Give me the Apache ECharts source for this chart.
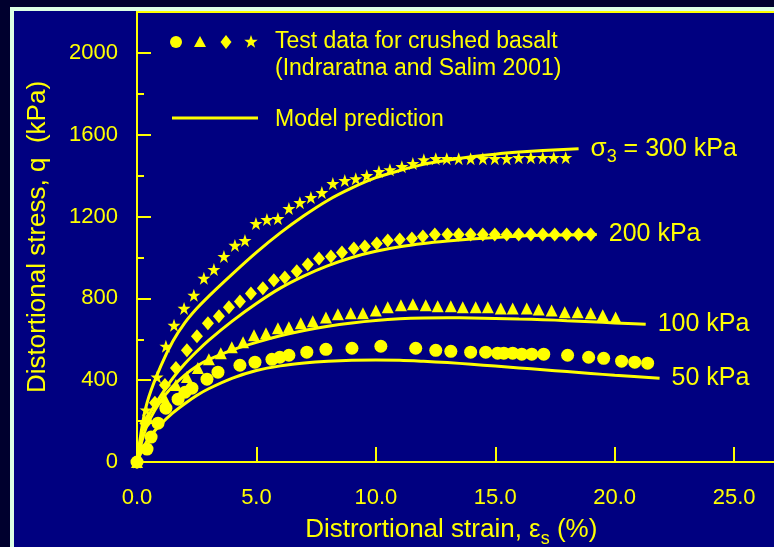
<!DOCTYPE html>
<html>
<head>
<meta charset="utf-8">
<title>Crushed basalt – distortional stress vs strain</title>
<script src="https://cdn.jsdelivr.net/npm/echarts@6/dist/echarts.min.js"></script>
<style>
  html, body { margin: 0; padding: 0; background: #00002e; }
  #chart { width: 774px; height: 547px; }
</style>
</head>
<body>
<div id="chart"></div>
<script>
// Test data, [distortional strain %, distortional stress kPa]
const test50 = [
  [0, 0], [0.42, 63], [0.59, 122], [0.88, 190], [1.21, 263], [1.72, 307], [2.01, 341],
  [2.30, 361], [2.93, 405], [3.39, 439], [4.31, 473], [4.94, 488], [5.65, 502],
  [5.98, 512], [6.36, 522], [7.11, 537], [7.91, 551], [9.00, 556], [10.21, 566],
  [11.67, 556], [12.51, 546], [13.14, 541], [13.97, 537], [14.60, 537], [15.10, 532],
  [15.36, 532], [15.73, 532], [16.11, 527], [16.53, 527], [17.03, 527], [18.03, 522],
  [18.91, 512], [19.54, 507], [20.29, 493], [20.84, 488], [21.38, 483]
];
const test100 = [
  [0, 0], [0.45, 215], [1.13, 317], [1.63, 376], [2.09, 415], [2.55, 459], [3.01, 502],
  [3.51, 532], [3.97, 561], [4.44, 585], [4.90, 620], [5.40, 629], [5.90, 654],
  [6.36, 659], [6.86, 678], [7.36, 688], [7.91, 707], [8.41, 722], [8.95, 727],
  [9.46, 727], [10.00, 741], [10.50, 756], [11.05, 766], [11.55, 771], [12.09, 766],
  [12.59, 761], [13.14, 761], [13.64, 756], [14.18, 756], [14.69, 756], [15.23, 751],
  [15.73, 751], [16.32, 751], [16.82, 746], [17.36, 741], [17.91, 732], [18.45, 732],
  [19.00, 727], [19.50, 717], [20.04, 707]
];
const test200 = [
  [0, 0], [0.35, 190], [0.75, 290], [1.17, 376], [1.63, 459], [2.09, 546], [2.51, 615],
  [2.97, 678], [3.43, 712], [3.85, 756], [4.31, 785], [4.77, 824], [5.27, 849],
  [5.73, 888], [6.19, 902], [6.69, 932], [7.15, 966], [7.62, 995], [8.12, 1005],
  [8.58, 1024], [9.08, 1044], [9.54, 1054], [10.04, 1068], [10.50, 1083], [11.00, 1088],
  [11.51, 1093], [11.97, 1102], [12.47, 1112], [13.00, 1112], [13.47, 1112], [13.97, 1112],
  [14.48, 1112], [14.98, 1112], [15.48, 1112], [15.98, 1112], [16.49, 1112], [16.99, 1112],
  [17.49, 1112], [17.99, 1112], [18.49, 1112], [19.00, 1112]
];
const test300 = [
  [0, 0], [0.38, 254], [0.84, 415], [1.21, 566], [1.55, 668], [1.97, 751], [2.38, 815],
  [2.80, 898], [3.22, 941], [3.64, 1005], [4.10, 1059], [4.52, 1083], [4.98, 1166],
  [5.44, 1185], [5.90, 1190], [6.36, 1239], [6.82, 1268], [7.28, 1293], [7.74, 1317],
  [8.20, 1361], [8.70, 1376], [9.16, 1385], [9.62, 1400], [10.13, 1420], [10.59, 1429],
  [11.09, 1444], [11.55, 1459], [12.01, 1478], [12.51, 1483], [12.97, 1483], [13.47, 1483],
  [13.97, 1483], [14.48, 1483], [14.98, 1483], [15.48, 1483], [15.98, 1488], [16.49, 1488],
  [16.99, 1488], [17.45, 1488], [17.95, 1488]
];

// Model prediction curves
const model50 = [
  [0, 0], [0.25, 65], [0.5, 118], [1, 185], [1.5, 240], [2, 285], [2.5, 325], [3, 358],
  [4, 410], [5, 447], [6, 470], [7, 484], [8, 493], [9, 498], [10, 499], [11, 497],
  [12, 492], [13, 486], [14, 478], [15, 469], [16, 460], [17, 451], [18, 442], [19, 433],
  [20, 424], [21.88, 410]
];
const model100 = [
  [0, 0], [0.25, 120], [0.5, 200], [1, 300], [1.5, 370], [2, 425], [2.5, 468], [3, 500],
  [4, 548], [5, 585], [6, 617], [7, 643], [8, 664], [9, 680], [10, 692], [11, 700],
  [12, 704], [13, 705], [14, 704], [15, 702], [16, 699], [17, 696], [18, 691], [19, 686],
  [20, 680], [21.3, 673]
];
const model200 = [
  [0, 0], [0.25, 165], [0.5, 230], [1, 325], [1.5, 410], [2, 480], [2.5, 540], [3, 595],
  [4, 690], [5, 775], [6, 850], [7, 910], [8, 960], [9, 1000], [10, 1030], [11, 1052],
  [12, 1068], [13, 1080], [14, 1090], [15, 1098], [16, 1104], [17, 1108], [19.25, 1112]
];
const model300 = [
  [0, 0], [0.25, 200], [0.5, 320], [1, 470], [1.5, 590], [2, 680], [2.5, 750], [3, 810],
  [4, 920], [5, 1025], [6, 1120], [7, 1205], [8, 1280], [9, 1340], [10, 1390], [11, 1425],
  [12, 1455], [13, 1475], [14, 1492], [15, 1505], [16, 1515], [17, 1523], [18.49, 1532]
];

// Curve end labels
const curveLabels = ['{s|σ}{sub|3}{t| = 300 kPa}', '200 kPa', '100 kPa', '50 kPa'];

// Axis ticks
const xTicks = [0, 5, 10, 15, 20, 25, 30];
const yMajorTicks = [0, 400, 800, 1200, 1600, 2000];

const YELLOW = '#ffff00';
const FONT = '"Liberation Sans", Arial, sans-serif';
const STAR = 'path://M50,0 L61.8,35.1 L97.6,35.1 L68.6,56.9 L79.4,91.9 L50,70.2 L20.6,91.9 L31.4,56.9 L2.4,35.1 L38.2,35.1 Z';

function scatter(data, symbol, size) {
  return {
    type: 'scatter',
    data: data,
    symbol: symbol,
    symbolSize: size,
    itemStyle: { color: YELLOW, opacity: 1 },
    z: 3,
    silent: true
  };
}

function modelLine(data, labelText) {
  return {
    type: 'line',
    data: data,
    smooth: 0.3,
    showSymbol: false,
    symbol: 'none',
    lineStyle: { color: YELLOW, width: 3 },
    endLabel: {
      show: true,
      distance: 12,
      formatter: labelText,
      color: YELLOW,
      fontFamily: FONT,
      fontSize: 25,
      rich: {
        s: { fontSize: 26, color: YELLOW, fontFamily: FONT, lineHeight: 34 },
        sub: { fontSize: 18, color: YELLOW, fontFamily: FONT, lineHeight: 34, verticalAlign: 'bottom' },
        t: { fontSize: 25, color: YELLOW, fontFamily: FONT, lineHeight: 34 }
      }
    },
    z: 2,
    silent: true
  };
}

const chart = echarts.init(document.getElementById('chart'), null, { renderer: 'canvas' });

chart.setOption({
  backgroundColor: '#00002e',
  animation: false,
  graphic: [
    {
      type: 'rect',
      z: -10,
      shape: { x: 12, y: 9, width: 1000, height: 1000 },
      style: { fill: '#000080', stroke: '#dcffe4', lineWidth: 4 }
    },
    // legend: test data symbols
    { type: 'circle', shape: { cx: 176, cy: 42, r: 6 }, style: { fill: YELLOW } },
    { type: 'polygon', shape: { points: [[200, 36], [206, 47], [194, 47]] }, style: { fill: YELLOW } },
    { type: 'polygon', shape: { points: [[226, 35], [231.5, 42], [226, 49], [220.5, 42]] }, style: { fill: YELLOW } },
    {
      type: 'polygon',
      shape: {
        points: [[251, 35], [252.7, 39.8], [257.7, 39.8], [253.7, 42.9], [255.1, 47.7],
                 [251, 44.8], [246.9, 47.7], [248.3, 42.9], [244.3, 39.8], [249.3, 39.8]]
      },
      style: { fill: YELLOW }
    },
    {
      type: 'text', x: 275, y: 42,
      style: { text: 'Test data for crushed basalt', fill: YELLOW, font: '23px ' + FONT, verticalAlign: 'middle' }
    },
    {
      type: 'text', x: 275, y: 69,
      style: { text: '(Indraratna and Salim 2001)', fill: YELLOW, font: '23px ' + FONT, verticalAlign: 'middle' }
    },
    { type: 'line', shape: { x1: 172, y1: 118, x2: 258, y2: 118 }, style: { stroke: YELLOW, lineWidth: 3 } },
    {
      type: 'text', x: 275, y: 120,
      style: { text: 'Model prediction', fill: YELLOW, font: '23px ' + FONT, verticalAlign: 'middle' }
    }
  ],
  grid: {
    left: 137,
    right: -79.5,
    top: 12,
    bottom: 85,
    show: true,
    backgroundColor: 'transparent',
    borderColor: YELLOW,
    borderWidth: 2,
    containLabel: false,
    outerBoundsMode: 'none'
  },
  xAxis: {
    type: 'value',
    min: xTicks[0],
    max: xTicks[xTicks.length - 1],
    interval: 5,
    name: 'Distrortional strain, {e|ε}{sub|s} (%)',
    nameLocation: 'middle',
    nameGap: 50,
    nameTextStyle: {
      color: YELLOW, fontFamily: FONT, fontSize: 26,
      padding: [0, 88, 0, 0],
      rich: {
        e: { color: YELLOW, fontFamily: FONT, fontSize: 26, lineHeight: 36 },
        sub: { color: YELLOW, fontFamily: FONT, fontSize: 18, lineHeight: 36, verticalAlign: 'bottom' }
      }
    },
    axisLine: { lineStyle: { color: YELLOW, width: 2 } },
    axisTick: { inside: true, length: 15, lineStyle: { color: YELLOW, width: 2 } },
    axisLabel: {
      color: YELLOW, fontFamily: FONT, fontSize: 22, margin: 25,
      formatter: v => v.toFixed(1)
    },
    splitLine: { show: false }
  },
  yAxis: [
    {
      type: 'value',
      min: 0,
      max: 2200,
      interval: 200,
      name: 'Distortional stress, q  (kPa)',
      nameLocation: 'middle',
      nameGap: 86,
      nameTextStyle: { color: YELLOW, fontFamily: FONT, fontSize: 26 },
      axisLine: { show: true, lineStyle: { color: YELLOW, width: 2 } },
      axisTick: { inside: true, length: 7, lineStyle: { color: YELLOW, width: 2 } },
      axisLabel: {
        color: YELLOW, fontFamily: FONT, fontSize: 22, margin: 19,
        formatter: v => (yMajorTicks.indexOf(v) >= 0 ? String(v) : '')
      },
      splitLine: { show: false }
    },
    {
      type: 'value',
      min: 0,
      max: 2200,
      position: 'left',
      axisLine: { show: false },
      axisTick: {
        show: true, inside: true, length: 14,
        customValues: yMajorTicks,
        lineStyle: { color: YELLOW, width: 2 }
      },
      axisLabel: { show: false },
      splitLine: { show: false }
    }
  ],
  series: [
    modelLine(model300, curveLabels[0]),
    modelLine(model200, curveLabels[1]),
    modelLine(model100, curveLabels[2]),
    modelLine(model50, curveLabels[3]),
    scatter(test50, 'circle', 13),
    scatter(test100, 'triangle', 12),
    scatter(test200, 'diamond', [12, 14]),
    scatter(test300, STAR, 13)
  ]
});
</script>
</body>
</html>
